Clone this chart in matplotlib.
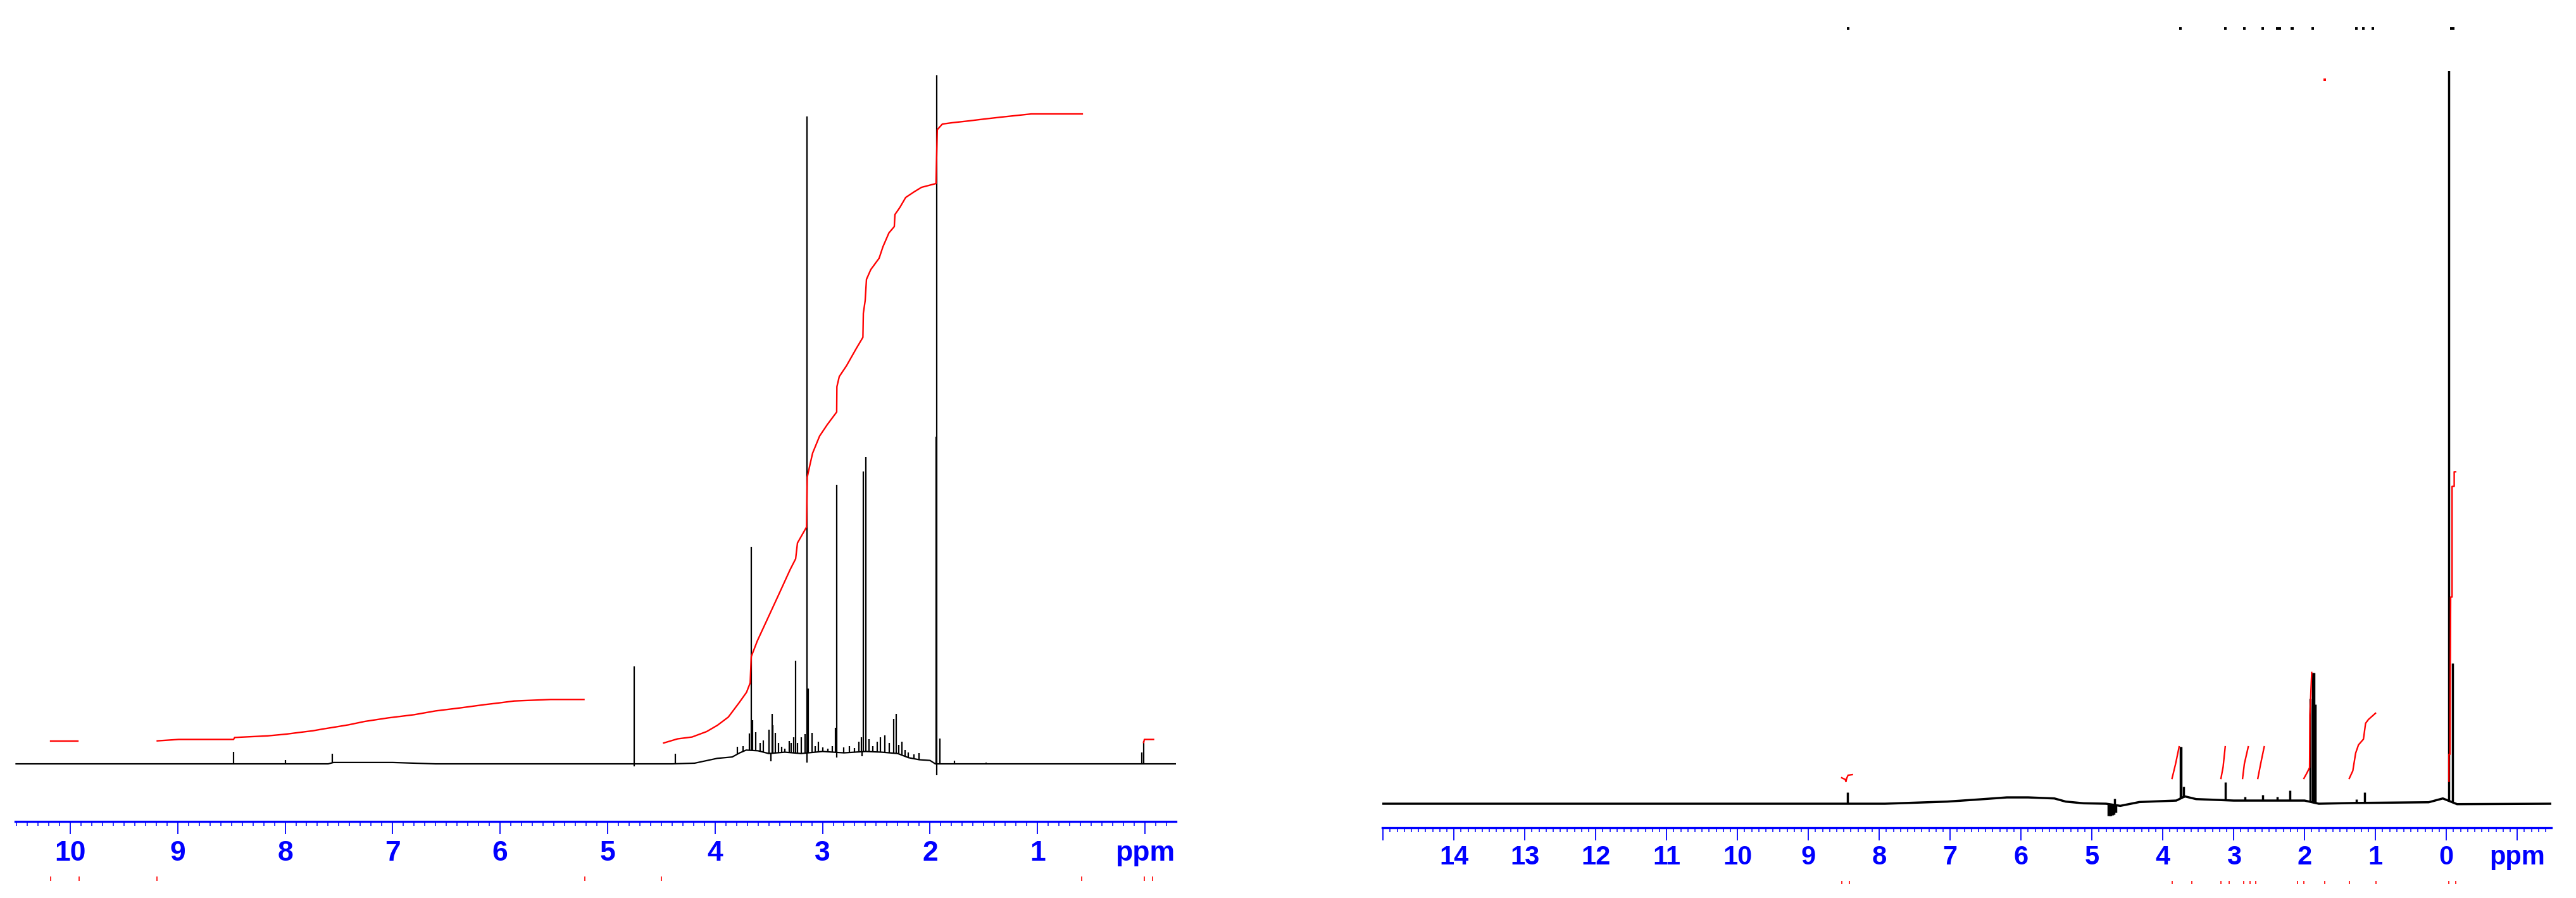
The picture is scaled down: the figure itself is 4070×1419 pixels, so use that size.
import matplotlib
matplotlib.use("Agg")
import matplotlib.pyplot as plt
from matplotlib.ticker import MultipleLocator, FuncFormatter
import numpy as np

plt.rcParams['font.family'] = ['Liberation Sans Narrow', 'Liberation Sans', 'DejaVu Sans']
plt.rcParams['font.weight'] = 'bold'

# ---------------- left spectrum (intensity in % of full scale) ----------------
left_base_ppm = [10.51, 7.60, 7.55, 7.00, 6.60, 4.80, 4.40, 4.19, 3.98, 3.84, 3.77, 3.71,
                 3.60, 3.50, 3.35, 3.20, 3.00, 2.80, 2.60, 2.45, 2.30, 2.20, 2.10, 2.00,
                 1.95, -0.29]
left_base_int = [0, 0, 0.2, 0.2, 0, 0, 0, 0.1, 0.8, 1.0, 1.6, 2.0,
                 1.9, 1.5, 1.7, 1.5, 1.8, 1.6, 1.8, 1.7, 1.5, 0.9, 0.6, 0.5,
                 0, 0]
left_peak_ppm = [8.48, 8.00, 7.56, 4.75, 4.75, 4.37, 3.79, 3.74, 3.68, 3.665, 3.65, 3.62,
                 3.58, 3.55, 3.50, 3.48, 3.47, 3.46, 3.44, 3.41, 3.38, 3.35, 3.31, 3.29,
                 3.27, 3.253, 3.23, 3.20, 3.16, 3.143, 3.143, 3.13, 3.10, 3.07, 3.04, 3.00,
                 2.95, 2.91, 2.877, 2.866, 2.87, 2.80, 2.75, 2.70, 2.66, 2.64, 2.63, 2.62,
                 2.595, 2.57, 2.53, 2.49, 2.46, 2.42, 2.38, 2.34, 2.315, 2.29, 2.26, 2.23,
                 2.20, 2.15, 2.10, 1.945, 1.94, 1.94, 1.91, 1.775, 1.48, 1.30, 0.03, 0.012]
left_peak_int = [1.75, 0.6, 1.5, 14.2, -0.4, 1.5, 2.5, 2.6, 4.4, 31.5, 6.3, 4.6,
                 3.0, 3.4, 5.0, 0.4, 7.3, 5.6, 4.5, 3.0, 2.5, 2.2, 3.3, 3.0,
                 3.9, 15.0, 3.0, 3.9, 4.3, 94.0, 0.2, 10.9, 4.5, 2.6, 3.2, 2.4,
                 2.2, 2.6, 5.2, 40.5, 0.9, 2.4, 2.6, 2.3, 3.2, 3.9, 1.1, 42.5,
                 44.6, 3.6, 2.6, 3.2, 3.9, 4.1, 3.0, 6.5, 7.3, 2.8, 3.2, 2.0,
                 1.7, 1.4, 1.6, 47.5, 102, -1.65, 3.7, 0.5, 0.2, 0.1, 1.7, 3.3]

# left integrals
left_i1_ppm = [10.18, 9.93]
left_i1_val = [3.3, 3.3]
left_i2_ppm = [9.19, 8.99, 8.48, 8.47, 8.16, 7.99, 7.87, 7.74, 7.65, 7.53, 7.41, 7.26,
               7.04, 6.80, 6.60, 6.36, 6.14, 6.01, 5.87, 5.53, 5.22]
left_i2_val = [3.34, 3.55, 3.55, 3.83, 4.07, 4.32, 4.56, 4.81, 5.06, 5.36, 5.67, 6.16,
               6.68, 7.14, 7.69, 8.15, 8.61, 8.85, 9.13, 9.35, 9.35]
left_i3_ppm = [4.478, 4.349, 4.214, 4.078, 3.977, 3.876, 3.774, 3.707, 3.673, 3.663, 3.606,
               3.504, 3.402, 3.301, 3.250, 3.233, 3.149, 3.142, 3.115, 3.092, 3.027, 2.956,
               2.868, 2.866, 2.844, 2.777, 2.687, 2.624, 2.620, 2.603, 2.591, 2.551, 2.473,
               2.438, 2.382, 2.332, 2.326, 2.281, 2.226, 2.146, 2.079, 1.944, 1.932, 1.885,
               1.796, 1.637, 1.490, 1.337, 1.222, 1.057, 0.583]
left_i3_val = [3.03, 3.63, 3.90, 4.69, 5.61, 6.80, 8.92, 10.39, 11.76, 15.58, 17.88,
               21.32, 24.77, 28.22, 29.78, 32.08, 34.38, 41.64, 43.57, 45.13, 47.61, 49.26,
               51.10, 54.78, 56.25, 57.81, 60.29, 61.95, 65.44, 67.28, 70.36, 71.78, 73.44,
               75.09, 77.11, 78.03, 79.78, 80.79, 82.26, 83.09, 83.73, 84.28, 92.10, 92.92,
               93.11, 93.38, 93.66, 93.93, 94.12, 94.39, 94.39]
left_i4_ppm = [0.012, 0.005, -0.08]
left_i4_val = [3.1, 3.55, 3.55]
left_bounds = [10.18, 9.92, 9.19, 5.21, 4.50, 0.59, 0.006, -0.07]

# ---------------- right spectrum ----------------
right_base_ppm = [15.01, 7.92, 7.04, 6.60, 6.20, 5.90, 5.53, 5.37, 5.12, 4.80, 4.60, 4.33,
                  3.81, 3.69, 3.53, 3.00, 2.50, 2.00, 1.80, 1.30, 0.25, 0.05, -0.15, -1.48]
right_base_int = [0, 0, 0.29, 0.58, 0.86, 0.86, 0.72, 0.29, 0.06, 0, -0.29, 0.23,
                  0.43, 1.0, 0.63, 0.43, 0.43, 0.43, 0, 0.1, 0.2, 0.72, -0.06, 0]
right_peak_ppm = [8.45, 4.77, 4.75, 4.73, 4.71, 4.69, 4.68, 4.66, 3.75, 3.74, 3.71, 3.12,
                  2.84, 2.59, 2.39, 2.21, 1.92, 1.89, 1.87, 1.85, 1.27, 1.15, -0.03, -0.09]
right_peak_int = [1.55, -1.6, -1.65, -1.6, -1.55, -1.5, 0.7, -1.2, 7.77, 7.77, 2.3, 2.94,
                  0.95, 1.2, 0.95, 1.8, 14.3, 17.9, 17.9, 13.6, 0.6, 1.55, 102, 19.2]

right_i1_ppm = [8.53, 8.48, 8.47, 8.46, 8.44, 8.38]
right_i1_val = [3.54, 3.31, 3.02, 3.45, 3.89, 3.97]
right_i2_ppm = [3.87, 3.82, 3.77]
right_i2_val = [3.45, 5.44, 7.77]
right_i3_ppm = [3.18, 3.15, 3.12]
right_i3_val = [3.45, 5.0, 7.77]
right_i4_ppm = [2.875, 2.85, 2.795]
right_i4_val = [3.45, 5.44, 7.77]
right_i5_ppm = [2.66, 2.62, 2.57]
right_i5_val = [3.45, 5.44, 7.77]
right_i6_ppm = [2.01, 1.97, 1.93, 1.925, 1.90]
right_i6_val = [3.45, 4.15, 4.92, 12.1, 17.9]
right_i7_ppm = [1.37, 1.32, 1.28, 1.24, 1.17, 1.14, 1.10, 1.00]
right_i7_val = [3.45, 4.49, 6.91, 8.03, 8.81, 10.97, 11.49, 12.35]
right_i8_ppm = [-0.036, -0.036, -0.05, -0.06, -0.08, -0.08, -0.11, -0.11, -0.13]
right_i8_val = [3.06, 6.74, 6.74, 28.2, 28.2, 43.3, 43.3, 45.3, 45.3]
right_bounds = [8.53, 8.42, 3.87, 3.59, 3.18, 3.06, 2.86, 2.77, 2.69, 2.10,
                2.01, 1.72, 1.37, 0.99, -0.03, -0.13]
right_marks = [8.44, 3.75, 3.12, 2.85, 2.59, 2.39, 2.35, 2.18, 2.17, 1.89, 1.27, 1.17,
               1.04, -0.07, -0.10]
right_red_mark = [1.72]

W, H = 4070, 1419
fig = plt.figure(figsize=(W / 100, H / 100), dpi=100)


def box(x0, y0, x1, y1):
    return [x0 / W, 1 - y1 / H, (x1 - x0) / W, (y1 - y0) / H]


axL = fig.add_axes(box(24, 119, 1858, 1298))
axR = fig.add_axes(box(2184, 112, 4031, 1308))
axL.set_xlim(10.512, -0.289)
axL.set_ylim(-8.36, 100)
axR.set_xlim(15.01, -1.48)
axR.set_ylim(-3.28, 100)


def fmt_left(v, pos):
    v = int(round(v))
    return 'ppm' if v == 0 else str(v)


def fmt_right(v, pos):
    v = int(round(v))
    if v == -1:
        return 'ppm'
    if v == 15:
        return ''
    return str(v)


for ax, fmt, size, pad in [(axL, fmt_left, 32, 7), (axR, fmt_right, 30, 5)]:
    for s in ['top', 'left', 'right']:
        ax.spines[s].set_visible(False)
    ax.spines['bottom'].set_color('blue')
    ax.spines['bottom'].set_linewidth(2.4)
    ax.set_yticks([])
    ax.xaxis.set_major_locator(MultipleLocator(1))
    ax.xaxis.set_minor_locator(MultipleLocator(0.1))
    ax.xaxis.set_major_formatter(FuncFormatter(fmt))
    ax.tick_params(axis='x', which='major', direction='out', length=14.4, width=1.3,
                   color='blue', labelcolor='blue', labelsize=size, pad=pad)
    ax.tick_params(axis='x', which='minor', direction='out', length=5, width=1.1,
                   color='blue')
    ax.patch.set_visible(False)


def draw_spectrum(ax, bp, bi, pp, pi, lw):
    bp = np.asarray(bp)
    bi = np.asarray(bi)
    ax.plot(bp, bi, color='black', lw=lw, solid_capstyle='butt')
    b = np.interp(pp, bp[::-1], bi[::-1])
    ax.vlines(pp, b, pi, colors='black', lw=lw)


draw_spectrum(axL, left_base_ppm, left_base_int, left_peak_ppm, left_peak_int, 1.6)
for p, v in [(left_i1_ppm, left_i1_val), (left_i2_ppm, left_i2_val),
             (left_i3_ppm, left_i3_val), (left_i4_ppm, left_i4_val)]:
    axL.plot(p, v, color='red', lw=1.7)
axL.vlines(left_bounds, -0.074, -0.080, transform=axL.get_xaxis_transform(),
           colors='red', lw=1.2, clip_on=False)

draw_spectrum(axR, right_base_ppm, right_base_int, right_peak_ppm, right_peak_int, 2.5)
for p, v in [(right_i1_ppm, right_i1_val), (right_i2_ppm, right_i2_val),
             (right_i3_ppm, right_i3_val), (right_i4_ppm, right_i4_val),
             (right_i5_ppm, right_i5_val), (right_i6_ppm, right_i6_val),
             (right_i7_ppm, right_i7_val), (right_i8_ppm, right_i8_val)]:
    axR.plot(p, v, color='red', lw=1.7)
axR.vlines(right_bounds, -0.0702, -0.0744, transform=axR.get_xaxis_transform(),
           colors='red', lw=1.2, clip_on=False)
axR.scatter(right_marks, [105.8] * len(right_marks), marker='s', s=7, color='black',
            linewidths=0, clip_on=False)
axR.scatter(right_red_mark, [98.8], marker='s', s=7, color='red', linewidths=0,
            clip_on=False)

fig.savefig('out.png', dpi=100)
